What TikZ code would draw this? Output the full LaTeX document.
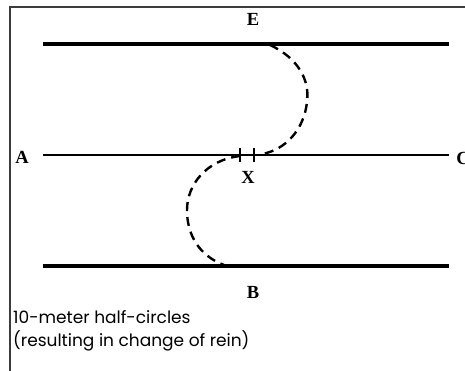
\documentclass[tikz,border=0pt]{standalone}
\usepackage{fontspec}
\setmainfont{Liberation Serif}
\newfontfamily\capfont{Poppins}
\usepackage{tikz}
\usetikzlibrary{positioning}
\definecolor{framecolor}{RGB}{60,60,60}

\begin{document}
\begin{tikzpicture}[x=1pt,y=-1pt,
lbl/.style={font=\fontsize{18.5}{18.5}\selectfont\bfseries,inner sep=0pt},
wall/.style={line width=4.5pt},
cline/.style={line width=2.6pt},
path/.style={line width=2.4pt,dash pattern=on 9pt off 6pt},
tick/.style={line width=2pt}]
\useasboundingbox (0,0) rectangle (465,371);
\draw[framecolor,line width=1.5pt] (10,371)--(10,7)--(466,7);
% long sides and centre line
\coordinate (e1) at (43,44); \coordinate (e2) at (449,44);
\coordinate (a1) at (43,155); \coordinate (c1) at (449,155);
\coordinate (b1) at (43,266); \coordinate (b2) at (449,266);
\draw[wall] (e1)--(e2);
\draw[cline] (a1)--(c1);
\draw[wall] (b1)--(b2);
\node[lbl] (E) at (253,19) {E};
\node[lbl] (A) at (22,157) {A};
\node[lbl] (C) at (463,158) {C};
\node[lbl] (B) at (253,292) {B};
\node[lbl] (X) at (248,177) {X};
\draw[tick] (240,148)--(240,162) (254,148)--(254,162);
% the two half-circles
\draw[path] (270,45) .. controls (298,58) and (310,80) .. (307,102) .. controls (304,130) and (285,150) .. (262,154);
\draw[path] (240,156) .. controls (206,160) and (187,185) .. (187,210) .. controls (187,236) and (200,256) .. (224,265);
\node[font=\capfont\fontsize{17}{23}\selectfont,align=left,anchor=base west,inner sep=0pt] (note) at (13,346)
{10-meter half-circles\\(resulting in change of rein)};
\end{tikzpicture}
\end{document}
